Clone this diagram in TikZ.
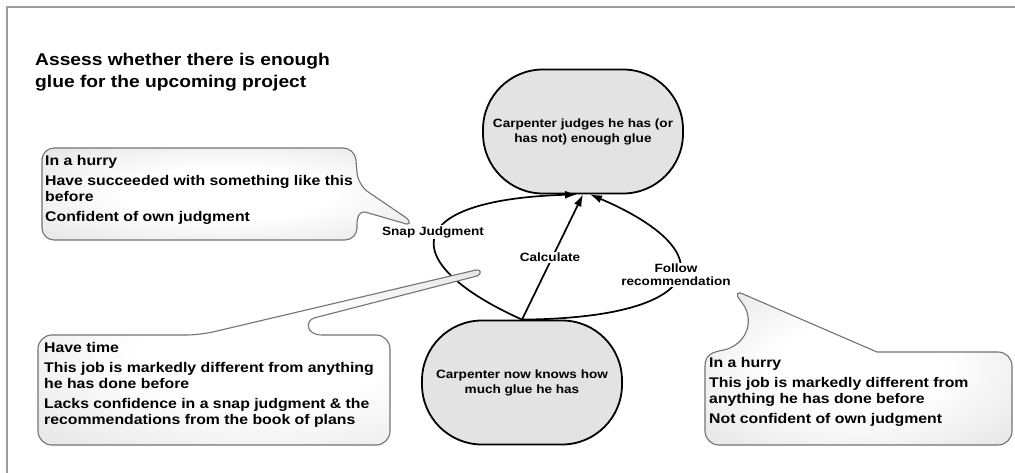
\documentclass[tikz,border=0pt]{standalone}
\usepackage{fontspec}
\newfontfamily\arialish{Liberation Sans}[FakeStretch=1.13]
\usetikzlibrary{arrows.meta}
% soft white-to-grey glow for the condition callouts
\pgfdeclareradialshading{softglow}{\pgfpoint{0bp}{0bp}}{%
  color(0bp)=(white); color(14bp)=(white); color(40bp)=(black!12);
  color(52bp)=(black!20); color(72bp)=(black!24)}
\begin{document}
\begin{tikzpicture}[x=1pt,y=-1pt,
  txt/.style={inner sep=0pt, align=left, text=black},
  stadium/.style={draw=black, line width=1.8pt, fill=black!11, rounded corners=60pt,
    minimum width=200pt, minimum height=124pt, inner sep=0pt, align=center,
    font=\arialish\bfseries\fontsize{12}{15}\selectfont},
  flow/.style={draw=black, line width=1.7pt, -{Latex[length=12pt,width=8pt]}},
  flowlabel/.style={fill=white, inner sep=1.5pt, align=center,
    font=\arialish\bfseries\fontsize{12}{13}\selectfont},
  callout/.style={draw=black!55, line width=1.1pt, shading=softglow},
  notetext/.style={txt, anchor=north west, font=\arialish\bfseries\fontsize{14}{15.5}\selectfont},
  frame/.style={draw=black!38, line width=2pt}
]
% canvas and frame
\fill[white] (0,0) rectangle (1015,473);
\useasboundingbox (0,0) rectangle (1015,473);
\draw[frame] (1015,7) -- (7,7) -- (7,473);

% title
\node[txt, anchor=north west, font=\arialish\bfseries\fontsize{17}{22}\selectfont] (title) at (35,52.6)
  {Assess whether there is enough\\glue for the upcoming project};

% states
\node[stadium] (judge) at (583,131.5) {Carpenter judges he has (or\\has not) enough glue};
\node[stadium] (knows) at (522,382.5) {Carpenter now knows how\\much glue he has};

% transitions
\draw[flow] (knows.north) .. controls (400,265) and (395,200) .. ([xshift=-6pt]judge.south);
\draw[flow] (knows.north) -- (judge.south);
\draw[flow] (knows.north) .. controls (710,318) and (725,252) .. ([xshift=7pt]judge.south);

% condition callouts
\shadedraw[callout] (42,170) [rounded corners=12pt] -- (42,148) -- (355,148) -- (358,185) [sharp corners]
  -- (405,217) .. controls (412,222) and (410,226) .. (403,223)
  -- (365,212) .. controls (358,212) and (357,218) .. (357,226)
  [rounded corners=12pt] -- (357,240) -- (42,240) -- cycle;
\node[notetext] (cond1) at (45,154.8)
  {In a hurry\\[5pt]Have succeeded with something like this\\before\\[5pt]Confident of own judgment};

\shadedraw[callout] (38,390) [rounded corners=14pt] -- (38,335) -- (200,335) [sharp corners]
  -- (476,270) .. controls (481,269) and (482,274) .. (477,276)
  -- (314,318) .. controls (305,321) and (306,335) .. (322,335)
  [rounded corners=14pt] -- (390,335) -- (390,445) -- (38,445) -- cycle;
\node[notetext] (cond2) at (44,341.8)
  {Have time\\[5pt]This job is markedly different from anything\\he has done before\\[5pt]Lacks confidence in a snap judgment \& the\\recommendations from the book of plans};

\shadedraw[callout] (705,400) -- (705,366) .. controls (705,355) and (712,352) .. (724,350)
  .. controls (748,344) and (756,318) .. (740,300)
  .. controls (735,294) and (738,291) .. (743,294)
  -- (877,352) [rounded corners=14pt] -- (1012,352) -- (1012,445) -- (705,445) -- cycle;
\node[notetext] (cond3) at (709,356.8)
  {In a hurry\\[5pt]This job is markedly different from\\anything he has done before\\[5pt]Not confident of own judgment};

% transition labels
\node[flowlabel] (snap) at (433,232) {Snap Judgment};
\node[flowlabel] (calc) at (550,257.5) {Calculate};
\node[flowlabel] (follow) at (676,275) {Follow\\recommendation};
\end{tikzpicture}
\end{document}
